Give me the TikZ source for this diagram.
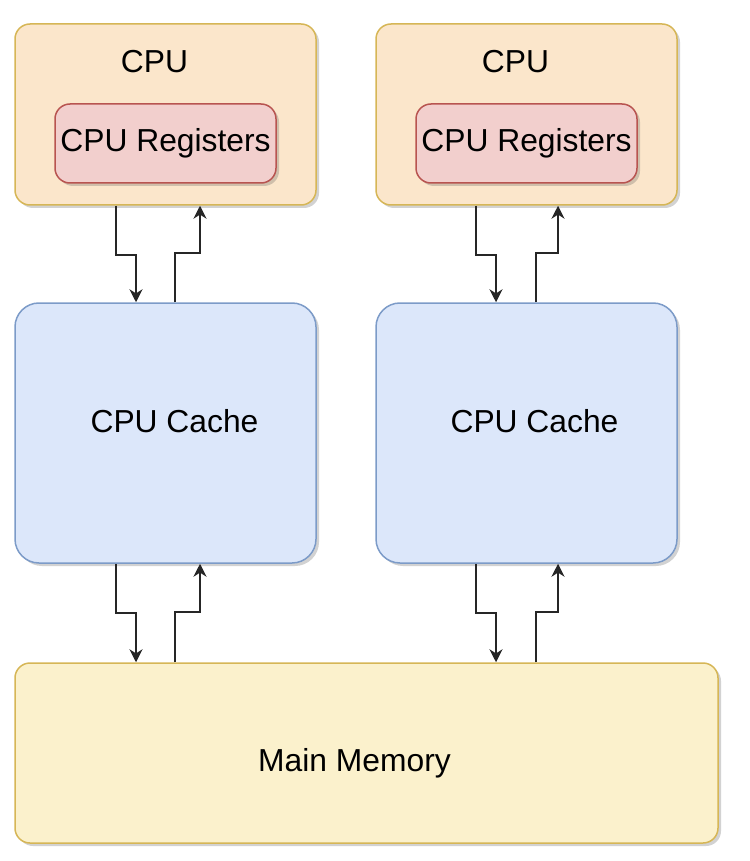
\documentclass[tikz,border=0pt]{standalone}
\usepackage{fontspec}
\setmainfont{Liberation Sans}
\usetikzlibrary{arrows.meta,calc,shadows}
\definecolor{cpufill}{HTML}{FBE6CB}
\definecolor{cpudraw}{HTML}{D6B656}
\definecolor{regfill}{HTML}{F2CFCD}
\definecolor{regdraw}{HTML}{B85450}
\definecolor{cachefill}{HTML}{DCE7FA}
\definecolor{cachedraw}{HTML}{7C9BC8}
\definecolor{memfill}{HTML}{FBF1CC}
\definecolor{memdraw}{HTML}{D6B656}
\begin{document}
\begin{tikzpicture}[
	x=0.5pt, y=-0.5pt,
	box/.style={
		rectangle,
		rounded corners=7.5pt,
		draw,
		line width=0.75pt,
		inner sep=0pt,
		font=\fontsize{15.9}{19}\selectfont,
		drop shadow={shadow xshift=1.5pt, shadow yshift=-1.5pt, opacity=0.25, fill=black!70}
	},
	cpu/.style={box, fill=cpufill, draw=cpudraw, minimum width=150.5pt, minimum height=90.5pt},
	regs/.style={box, fill=regfill, draw=regdraw, minimum width=110.5pt, minimum height=39.5pt},
	cache/.style={box, fill=cachefill, draw=cachedraw, rounded corners=12pt, minimum width=150.5pt, minimum height=130pt},
	mem/.style={box, fill=memfill, draw=memdraw, minimum width=351.5pt, minimum height=90pt},
	txt/.style={font=\fontsize{15.9}{19}\selectfont, inner sep=0pt},
	arrow/.style={-{Stealth[length=6.5pt,width=6.5pt]}, line width=0.9pt, draw=black!85}
]
\useasboundingbox (0,0) rectangle (749,861);

% Procesadores
\node[cpu] (cpuA) at (165.5,114.5) {};
\node[txt] (cpuAlbl) at (154.5,62) {CPU};
\node[regs] (regsA) at (165.5,143.5) {CPU Registers};

\node[cpu] (cpuB) at (526.5,114.5) {};
\node[txt] (cpuBlbl) at (515.5,62) {CPU};
\node[regs] (regsB) at (526.5,143.5) {CPU Registers};

% Caches
\node[cache, label={[txt, xshift=4.5pt, yshift=6pt]center:CPU Cache}] (cacheA) at (165.5,433) {};
\node[cache, label={[txt, xshift=4pt, yshift=6pt]center:CPU Cache}] (cacheB) at (526.5,433) {};

% Memoria principal
\node[mem, label={[txt, xshift=-6pt, yshift=-5pt]center:Main Memory}] (mem) at (366.5,753) {};

% Flechas CPU <-> cache
\draw[arrow] ([xshift=-24.75pt]cpuA.south) -- ++(0,49) -| ([xshift=-14.75pt]cacheA.north);
\draw[arrow] ([xshift=4.75pt]cacheA.north) -- ++(0,-49) -| ([xshift=17.25pt]cpuA.south);
\draw[arrow] ([xshift=-25.25pt]cpuB.south) -- ++(0,49) -| ([xshift=-15.25pt]cacheB.north);
\draw[arrow] ([xshift=4.75pt]cacheB.north) -- ++(0,-49) -| ([xshift=15.75pt]cpuB.south);

% Flechas cache <-> memoria
\draw[arrow] ([xshift=-24.75pt]cacheA.south) -- ++(0,49.5) -| ($(cacheA.south |- mem.north)+(-29.5,0)$);
\draw[arrow] ($(cacheA.south |- mem.north)+(9.5,0)$) -- ++(0,-50.5) -| ([xshift=17.25pt]cacheA.south);
\draw[arrow] ([xshift=-25.25pt]cacheB.south) -- ++(0,49.5) -| ($(cacheB.south |- mem.north)+(-30.5,0)$);
\draw[arrow] ($(cacheB.south |- mem.north)+(9.5,0)$) -- ++(0,-50.5) -| ([xshift=15.75pt]cacheB.south);

\end{tikzpicture}
\end{document}
